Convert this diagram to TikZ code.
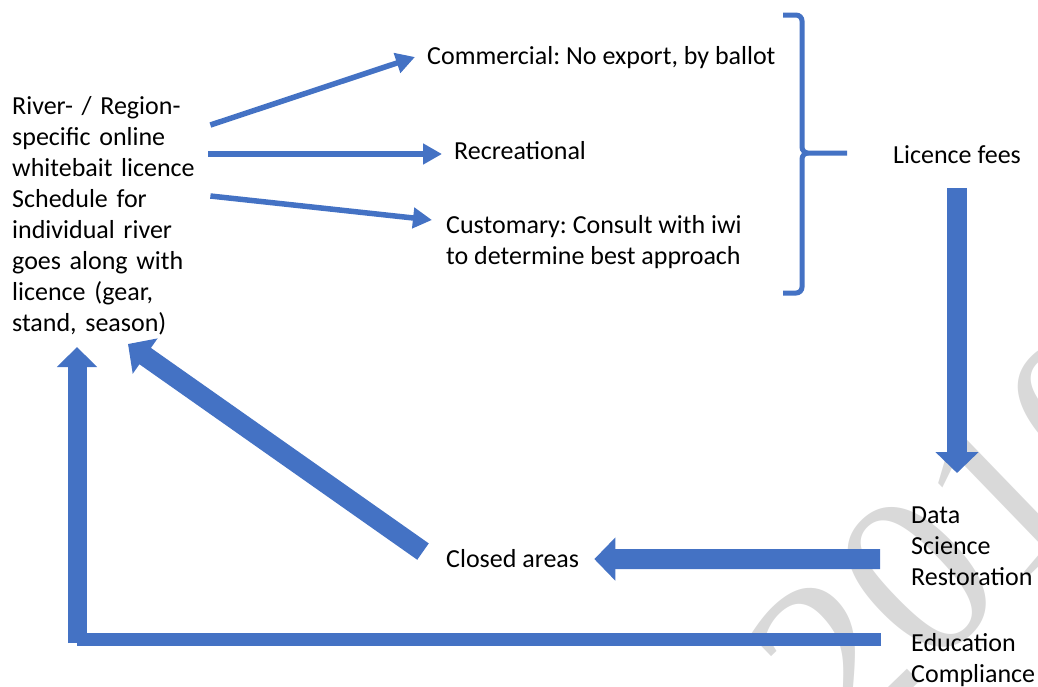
\documentclass[tikz,border=0pt]{standalone}
\usepackage{fontspec}
\setmainfont{Carlito}
\newfontfamily\markfont{Liberation Serif}
\usetikzlibrary{arrows.meta}
\definecolor{officeblue}{HTML}{4472C4}
\frenchspacing

\begin{document}
\begin{tikzpicture}
    [x = 1pt, y = -1pt,
     every node/.style = {inner sep = 0pt, font = \fontsize{26}{31}\selectfont, align = left},
     thin arrow/.style = {officeblue, line width = 5.5pt, -{Triangle[length=19pt,width=20pt]}},
     block arrow/.style = {officeblue, line width = 20pt, -{Triangle[length=21pt,width=42pt]}},
     brace line/.style = {officeblue, line width = 5pt}]
    \useasboundingbox (0,0) rectangle (1038,686);
    \node[font = \markfont\fontsize{235}{235}\selectfont, text = black!15, rotate = 44] (mark) at (960,536) {2010};

    \node[anchor = north west, text width = 196pt] (licence) at (12,96)
      {River- / Region-\\specific online\\whitebait licence\\Schedule for\\individual river\\goes along with\\licence (gear,\\stand, season)};
    \node[anchor = base west] (commercial) at (427,64) {Commercial: No export, by ballot};
    \node[anchor = base west] (recreational) at (454,159) {Recreational};
    \node[anchor = north west] (customary) at (446,215) {Customary: Consult with iwi\\to determine best approach};
    \node[anchor = base west] (fees) at (893,163) {Licence fees};
    \node[anchor = north west] (research) at (911,507) {Data\\Science\\Restoration};
    \node[anchor = base west] (closed) at (446,567) {Closed areas};
    \node[anchor = north west] (education) at (911,633) {Education\\Compliance};

    % licence types
    \draw[thin arrow] ([shift = {(2pt,-29pt)}]licence.north east) -- ([xshift = -12pt, yshift = 7pt]commercial.base west);
    \draw[thin arrow] ([yshift = -58pt]licence.north east) -- ([xshift = -12pt, yshift = 5pt]recreational.base west);
    \draw[thin arrow] ([shift = {(2pt,-100pt)}]licence.north east) -- ([xshift = -14pt, yshift = -5pt]customary.north west);

    % brace to fees
    \draw[brace line] (783,15) -- (796,15) to[out = 0, in = 90] (802,21) -- (802,147)
      to[out = -90, in = 180] (808,153) -- (847,153);
    \draw[brace line] (808,153) to[out = 180, in = 90] (802,159) -- (802,287)
      to[out = -90, in = 0] (796,293) -- (783,293);

    % loop back
    \coordinate (drop) at (fees.south |- research.north);
    \draw[block arrow] ([yshift = -25pt]fees.south) -- ([yshift = 34pt]drop);
    \draw[block arrow] ([shift = {(-31pt,-12.5pt)}]research.west) -- ([shift = {(15pt,-1pt)}]closed.east);
    \draw[block arrow] ([shift = {(-23pt,6.5pt)}]closed.west) -- ([shift = {(116pt,-248pt)}]licence.north west);
    \coordinate (bar) at ([shift = {(-30pt,-6.5pt)}]education.north west);
    \coordinate (riser) at ([shift = {(65pt,-251pt)}]licence.north west);
    \coordinate (turn) at (riser |- bar);
    \draw[officeblue, line width = 13pt] (bar) -- (turn);
    \draw[block arrow, line width = 19pt, -{Triangle[length=20pt,width=39pt]}] ([yshift = -3.5pt]turn) -- (riser);
\end{tikzpicture}
\end{document}
